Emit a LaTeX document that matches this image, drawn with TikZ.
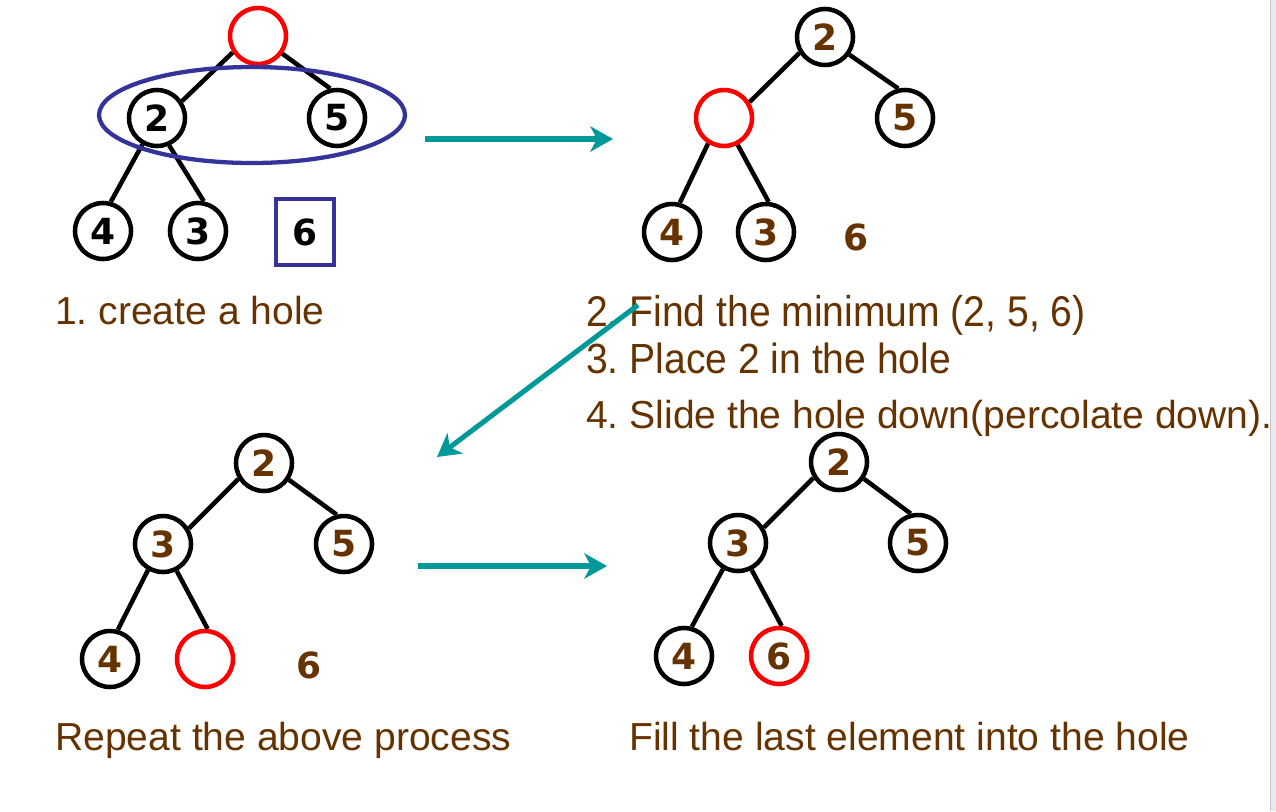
\documentclass[tikz,border=0pt]{standalone}
\usepackage{fontspec}
\setmainfont{Liberation Sans}
\newfontfamily\digitfont{DejaVu Sans}
\usetikzlibrary{arrows.meta,shapes.geometric}
\frenchspacing
\definecolor{txtbrown}{HTML}{663300}
\definecolor{holered}{HTML}{FF0000}
\definecolor{hlblue}{HTML}{333399}
\definecolor{arrteal}{HTML}{009999}
\definecolor{stripfill}{HTML}{EBE8F0}
\definecolor{stripline}{HTML}{C8C8C8}
\tikzset{
  digits/.style={font=\digitfont\bfseries\fontsize{27}{27}\selectfont},
  tnode/.style={circle, draw=black, line width=3.4pt, inner sep=0pt, minimum size=42pt, digits},
  bnode/.style={tnode, text=txtbrown},
  hole/.style={tnode, draw=holered, text=txtbrown},
  loose/.style={inner sep=0pt, digits, text=txtbrown},
  edge/.style={line width=3.4pt, black},
  caption/.style={anchor=base west, inner sep=0pt, text=txtbrown, font=\fontsize{29.3}{29.3}\selectfont},
  flow/.style={arrteal, line width=3.8pt, -{Stealth[length=17pt, width=19pt, inset=5pt]}}
}
\begin{document}
\begin{tikzpicture}[x=0.75pt, y=-0.75pt]
\useasboundingbox (0,0) rectangle (1276,811);
\fill[white] (0,0) rectangle (1276,811);
\fill[stripfill] (1270,0) rectangle (1276,811);
\draw[stripline, line width=0.75pt] (1270,0) -- (1270,811);

% ---- tree 1
\node[tnode, draw=holered] (r1) at (258,36) {};
\node[tnode] (a2) at (157,118) {2};
\node[tnode] (a5) at (337,118) {5};
\node[tnode] (a4) at (103,231) {4};
\node[tnode] (a3) at (198,231) {3};
\node[draw=hlblue, line width=3.2pt, inner sep=0pt, minimum width=43.5pt, minimum height=49.5pt, digits] (a6) at (305,232) {6};
\draw[edge] (r1.213) -- (a2.34);
\draw[edge] (r1.324) -- (a5.103);
\draw[edge] (a2.241) -- (a4.75);
\draw[edge] (a2.294) -- (a3.79);
\node[ellipse, draw=hlblue, line width=3.2pt, inner sep=0pt, minimum width=229.5pt, minimum height=72pt] (ring) at (252,115) {};
\node[caption] (c1) at (55,324) {1. create a hole};

% ---- tree 2
\node[bnode] (b1) at (825,37) {2};
\node[hole] (bh) at (724,118) {};
\node[bnode] (b5) at (905,118) {5};
\node[bnode] (b4) at (672,232) {4};
\node[bnode] (b3) at (766,232) {3};
\node[loose] (b6) at (856,237) {6};
\draw[edge] (b1.212) -- (bh.32);
\draw[edge] (b1.324) -- (b5.103);
\draw[edge] (bh.238) -- (b4.75);
\draw[edge] (bh.297) -- (b3.85);
\node[caption] (c2) at (586,326) {\scalebox{1}[1.1]{2. Find the minimum (2, 5, 6)}};
\node[caption] (c3) at (586,373) {\scalebox{1}[1.08]{3. Place 2 in the hole}};
\node[caption] (c4) at (586,428) {4. Slide the hole down(percolate down).};

% ---- tree 3
\node[bnode] (d1) at (264,463) {2};
\node[bnode] (d3) at (163,544) {3};
\node[bnode] (d5) at (344,544) {5};
\node[bnode] (d4) at (110,659) {4};
\node[hole] (dh) at (205,659) {};
\node[loose] (d6) at (309,665) {6};
\draw[edge] (d1.212) -- (d3.31);
\draw[edge] (d1.326) -- (d5.104);
\draw[edge] (d3.240) -- (d4.75);
\draw[edge] (d3.297) -- (dh.85);
\node[caption] (c5) at (55,750) {Repeat the above process};

% ---- tree 4
\node[bnode] (e1) at (839,462) {2};
\node[bnode] (e3) at (738,543) {3};
\node[bnode] (e5) at (918,543) {5};
\node[bnode] (e4) at (684,656) {4};
\node[hole] (e6) at (779,656) {6};
\draw[edge] (e1.212) -- (e3.31);
\draw[edge] (e1.326) -- (e5.104);
\draw[edge] (e3.240) -- (e4.75);
\draw[edge] (e3.297) -- (e6.85);
\node[caption] (c6) at (629,750) {Fill the last element into the hole};

% ---- flow arrows
\coordinate (f1s) at (425,139);
\coordinate (f1e) at (613,139);
\coordinate (f2s) at (638,305);
\coordinate (f2e) at (437,457);
\coordinate (f3s) at (418,566);
\coordinate (f3e) at (607,566);
\draw[flow] (f1s) -- (f1e);
\draw[flow] (f2s) -- (f2e);
\draw[flow] (f3s) -- (f3e);
\end{tikzpicture}
\end{document}
